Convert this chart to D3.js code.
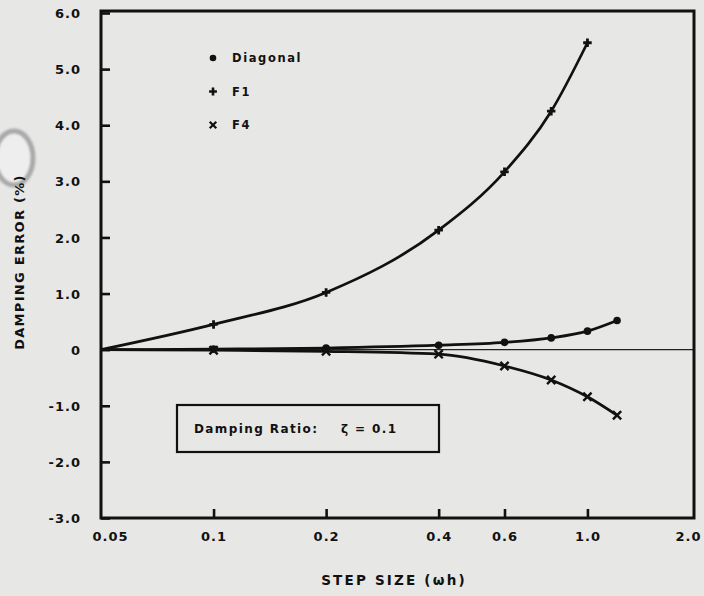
<!DOCTYPE html>
<html>
<head>
<meta charset="utf-8">
<script src="https://cdn.jsdelivr.net/npm/d3@7"></script>
<style>
  html, body { margin: 0; padding: 0; background: #e7e7e5; }
  svg { display: block; }
  text { font-family: "DejaVu Sans", sans-serif; font-weight: bold; fill: #111; }
</style>
</head>
<body>
<svg id="chart" width="704" height="596"></svg>
<script>
// Step sizes (ωh) and damping error (%) for each integration scheme
const diagonalSteps = [0.05, 0.1, 0.2, 0.4, 0.6, 0.8, 1.0, 1.2];
const diagonalError = [0, 0.01, 0.03, 0.08, 0.13, 0.21, 0.33, 0.52];

const f1Steps = [0.05, 0.1, 0.2, 0.4, 0.6, 0.8, 1.0];
const f1Error = [0, 0.45, 1.02, 2.13, 3.17, 4.25, 5.47];

const f4Steps = [0.05, 0.1, 0.2, 0.4, 0.6, 0.8, 1.0, 1.2];
const f4Error = [0, -0.01, -0.03, -0.08, -0.29, -0.54, -0.84, -1.17];

const xTickValues = [0.05, 0.1, 0.2, 0.4, 0.6, 1.0, 2.0];
const xTickLabels = ["0.05", "0.1", "0.2", "0.4", "0.6", "1.0", "2.0"];
const yTickValues = [6, 5, 4, 3, 2, 1, 0, -1, -2, -3];
const yTickLabels = ["6.0", "5.0", "4.0", "3.0", "2.0", "1.0", "0", "-1.0", "-2.0", "-3.0"];

const legendNames = ["Diagonal", "F1", "F4"];

const svg = d3.select("#chart");
const plotLeft = 101, plotRight = 694, plotTop = 13, plotBottom = 518;

// Log step axis; the 2.0 decade mark sits just past the hand-drawn frame edge
const x = d3.scaleLog().domain([0.05, 2.0]).range([plotLeft, 700]);
const y = d3.scaleLinear().domain([-3, 6]).range([plotBottom, plotTop]);

// Punched-hole shadow at the left margin
svg.append("ellipse")
  .attr("cx", 14).attr("cy", 158).attr("rx", 19).attr("ry", 27)
  .attr("fill", "#eeeeee").attr("stroke", "#a9a9a9").attr("stroke-width", 5)
  .style("filter", "blur(1.2px)");

// Zero reference line
svg.append("line")
  .attr("x1", plotLeft).attr("x2", plotRight)
  .attr("y1", y(0)).attr("y2", y(0))
  .attr("stroke", "#222").attr("stroke-width", 1.3);

// Axes with inward ticks
const yAxis = d3.axisLeft(y).tickValues(yTickValues).tickSize(-9)
  .tickFormat((d, i) => yTickLabels[i]).tickPadding(20);
const gy = svg.append("g").attr("transform", `translate(${plotLeft},0)`).call(yAxis);

const xAxis = d3.axisBottom(x).tickValues(xTickValues).tickSize(-9)
  .tickFormat((d, i) => xTickLabels[i]).tickPadding(14);
const gx = svg.append("g").attr("transform", `translate(0,${plotBottom})`).call(xAxis);

[gx, gy].forEach(g => {
  g.select(".domain").remove();
  g.selectAll(".tick line").attr("stroke", "#111").attr("stroke-width", 2.6);
  g.selectAll(".tick text").style("font-size", "13px").style("letter-spacing", "1px")
    .attr("fill", "#111");
});
gy.selectAll(".tick text").attr("dy", "0.35em");
gx.selectAll(".tick text").attr("dy", "0.7em")
  .attr("dx", d => d === 0.05 ? 9 : d === 2.0 ? -12 : 0);
// End ticks coincide with the frame corners
gx.selectAll(".tick line").filter(d => d === 0.05 || d === 2.0).remove();

// Frame
svg.append("rect")
  .attr("x", plotLeft).attr("y", plotTop - 2)
  .attr("width", plotRight - plotLeft).attr("height", plotBottom - plotTop + 2)
  .attr("fill", "none").attr("stroke", "#111").attr("stroke-width", 3);

// Curves
const line = d3.line()
  .x(d => x(d[0])).y(d => y(d[1]))
  .curve(d3.curveMonotoneX);

function pairs(xs, ys) { return xs.map((v, i) => [v, ys[i]]); }
const diagonal = pairs(diagonalSteps, diagonalError);
const f1 = pairs(f1Steps, f1Error);
const f4 = pairs(f4Steps, f4Error);

[diagonal, f1, f4].forEach(series => {
  svg.append("path").attr("d", line(series))
    .attr("fill", "none").attr("stroke", "#111").attr("stroke-width", 2.7);
});

// Markers (the curves start at the origin of the step range, unmarked)
const marked = s => s.filter(d => d[0] > 0.05);

svg.append("g").selectAll("circle").data(marked(diagonal)).join("circle")
  .attr("cx", d => x(d[0])).attr("cy", d => y(d[1])).attr("r", 3.8).attr("fill", "#111");

const plus = d3.symbol().type(d3.symbolCross).size(40);
svg.append("g").selectAll("path").data(marked(f1)).join("path")
  .attr("transform", d => `translate(${x(d[0])},${y(d[1])})`)
  .attr("d", plus).attr("fill", "#111");

const cross = d3.symbol().type(d3.symbolX).size(46);
svg.append("g").selectAll("path").data(marked(f4)).join("path")
  .attr("transform", d => `translate(${x(d[0])},${y(d[1])})`)
  .attr("d", cross).attr("fill", "none").attr("stroke", "#111").attr("stroke-width", 2.4);

// Legend
const legend = svg.append("g").attr("transform", "translate(213,58)");
const legendSymbols = [
  g => g.append("circle").attr("r", 3.3).attr("fill", "#111"),
  g => g.append("path").attr("d", d3.symbol().type(d3.symbolCross).size(34)).attr("fill", "#111"),
  g => g.append("path").attr("d", d3.symbol().type(d3.symbolX).size(30))
        .attr("fill", "none").attr("stroke", "#111").attr("stroke-width", 2.2)
];
legendNames.forEach((name, i) => {
  const row = legend.append("g").attr("transform", `translate(0,${i * 33.5})`);
  legendSymbols[i](row);
  row.append("text").attr("x", 19).attr("y", 0).attr("dy", "0.35em")
    .style("font-size", "11.5px").style("letter-spacing", "1.6px").text(name);
});

// Damping ratio annotation box
svg.append("rect")
  .attr("x", 177).attr("y", 405).attr("width", 262).attr("height", 47)
  .attr("fill", "none").attr("stroke", "#111").attr("stroke-width", 2.2);
const note = svg.append("text").attr("y", 429).attr("dy", "0.35em")
  .style("font-size", "12px").style("letter-spacing", "1.4px");
note.append("tspan").attr("x", 194).text("Damping Ratio:");
note.append("tspan").attr("x", 341).text("ζ = 0.1");

// Axis titles
svg.append("text")
  .attr("transform", "translate(24,262) rotate(-90)")
  .attr("text-anchor", "middle")
  .style("font-size", "13px").style("letter-spacing", "1.3px")
  .text("DAMPING ERROR (%)");

svg.append("text")
  .attr("x", 394).attr("y", 585).attr("text-anchor", "middle")
  .style("font-size", "13.5px").style("letter-spacing", "2.2px")
  .text("STEP SIZE (ωh)");
</script>
</body>
</html>
